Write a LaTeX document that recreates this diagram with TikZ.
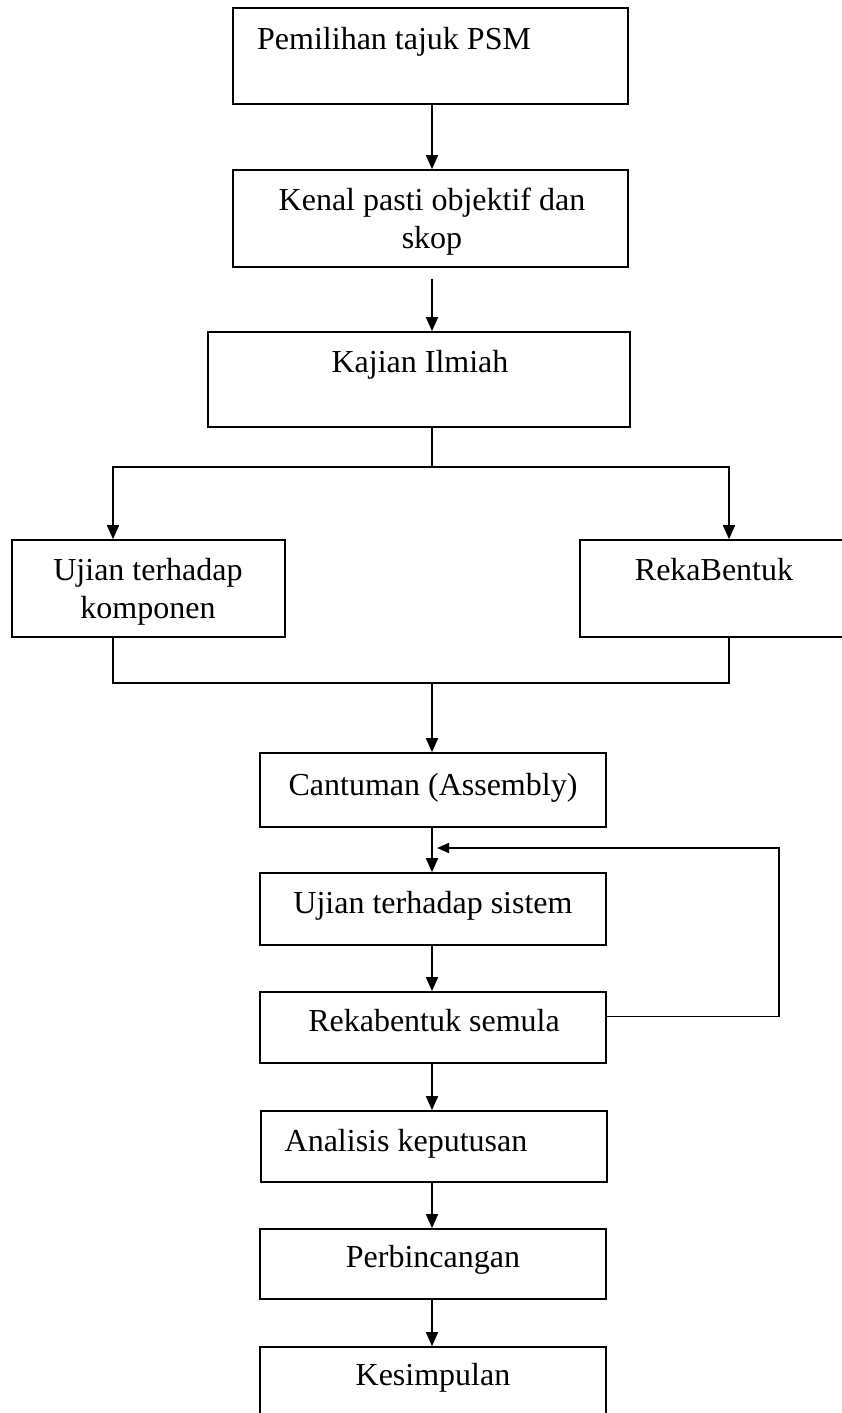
\documentclass[tikz,border=0pt]{standalone}
\usepackage{fontspec}
\setmainfont{Liberation Serif}
\usetikzlibrary{arrows.meta}
\begin{document}
\begin{tikzpicture}[x=1pt,y=-1pt,
  box/.style={draw, line width=1.7pt, inner sep=0pt},
  txt/.style={font=\fontsize{32}{38}\selectfont, inner sep=0pt, anchor=base},
  line/.style={line width=1.7pt},
  arr/.style={line width=1.7pt, -{Triangle[width=12pt,length=14pt]}}]
\useasboundingbox (0,0) rectangle (842,1413);
% boxes
\node[box, minimum width=395pt, minimum height=96pt] (b1) at (430.5,56) {};
\node[box, minimum width=395pt, minimum height=97pt] (b2) at (430.5,218.5) {};
\node[box, minimum width=422pt, minimum height=95pt] (b3) at (419,379.5) {};
\node[box, minimum width=273pt, minimum height=97pt] (b4) at (148.5,588.5) {};
\node[box, minimum width=280pt, minimum height=97pt] (b5) at (720,588.5) {};
\node[box, minimum width=346pt, minimum height=74pt] (b6) at (433,790) {};
\node[box, minimum width=346pt, minimum height=72pt] (b7) at (433,909) {};
\node[box, minimum width=346pt, minimum height=71pt] (b8) at (433,1027.5) {};
\node[box, minimum width=346pt, minimum height=71pt] (b9) at (434,1146.5) {};
\node[box, minimum width=346pt, minimum height=70pt] (b10) at (433,1264) {};
\node[box, minimum width=346pt, minimum height=80pt] (b11) at (433,1387) {};
% texts
\node[txt, anchor=base west] (t1) at (257,50) {Pemilihan tajuk PSM};
\node[txt] (t2a) at (432,210) {Kenal pasti objektif dan};
\node[txt] (t2b) at (432,248) {skop};
\node[txt] (t3) at (420,372) {Kajian Ilmiah};
\node[txt] (t4a) at (148,580) {Ujian terhadap};
\node[txt] (t4b) at (148,618) {komponen};
\node[txt] (t5) at (714,580) {RekaBentuk};
\node[txt] (t6) at (433,795) {Cantuman (Assembly)};
\node[txt] (t7) at (433,913) {Ujian terhadap sistem};
\node[txt] (t8) at (434,1031) {Rekabentuk semula};
\node[txt] (t9) at (406,1151) {Analisis keputusan};
\node[txt] (t10) at (433,1267) {Perbincangan};
\node[txt] (t11) at (433,1385) {Kesimpulan};
% coordinates
\coordinate (sp) at (432,467);
\coordinate (spL) at (113,467);
\coordinate (spR) at (729,467);
\coordinate (jn) at (432,683);
\coordinate (fb) at (779,848);
% connectors
\draw[arr] (b1.south -| sp) -- (b2.north -| sp);
\draw[arr, shorten <=11pt] (b2.south -| sp) -- (b3.north -| sp);
\draw[line] (b3.south -| sp) -- (sp);
\draw[arr] (sp) -- (spL) -- (b4.north -| spL);
\draw[arr] (sp) -- (spR) -- (b5.north -| spR);
\draw[line] (b4.south -| spL) -- (spL |- jn) -- (spR |- jn) -- (b5.south -| spR);
\draw[arr] (jn) -- (b6.north -| jn);
\draw[arr] (b6.south -| sp) -- (b7.north -| sp);
\draw[arr] (b7.south -| sp) -- (b8.north -| sp);
\draw[arr] (b8.south -| sp) -- (b9.north -| sp);
\draw[arr] (b9.south -| sp) -- (b10.north -| sp);
\draw[arr] (b10.south -| sp) -- (b11.north -| sp);
\draw[line, -{Triangle[width=10pt,length=12pt]}, shorten >=5pt] ([yshift=11pt]b8.east) -| (fb) -- (fb -| sp);
\end{tikzpicture}
\end{document}
